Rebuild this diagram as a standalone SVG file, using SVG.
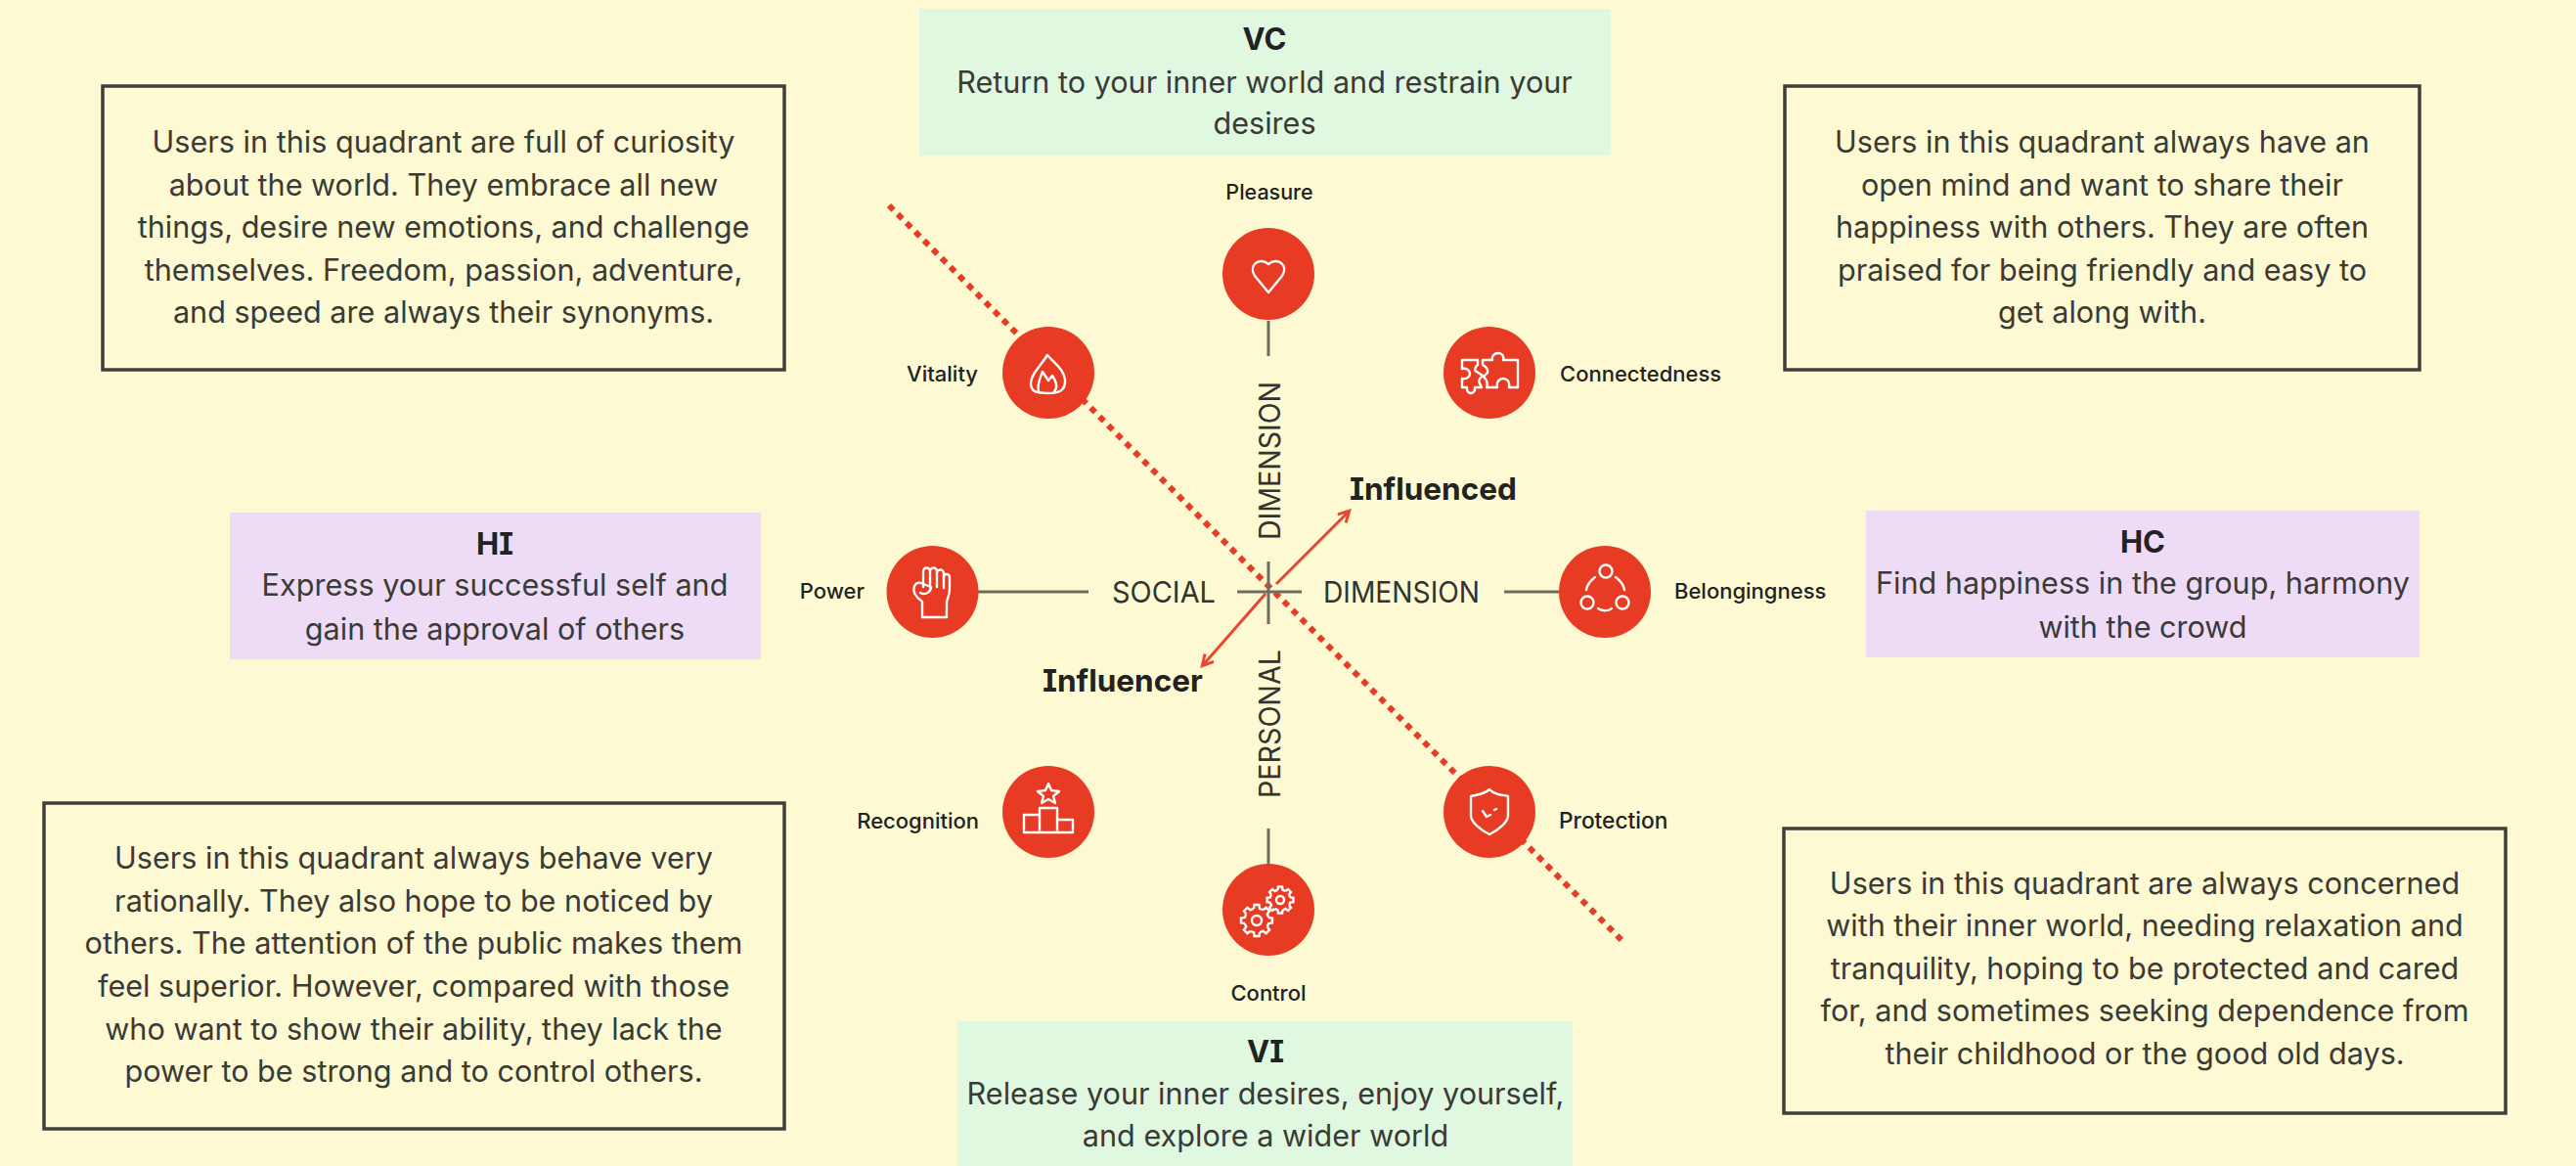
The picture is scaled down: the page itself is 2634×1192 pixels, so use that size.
<svg xmlns="http://www.w3.org/2000/svg" xmlns:xlink="http://www.w3.org/1999/xlink" width="2634" height="1192" viewBox="0 0 2634 1192">
<style>
text{font-family:"Inter","Liberation Sans",sans-serif;fill:#3a3a36}
.b{font-size:30.6px;text-anchor:middle;transform:translateY(1.5px)}
.h{font-size:31px;text-anchor:middle;font-weight:700;fill:#222;font-feature-settings:"cv08";transform:translateY(1.5px)}
#box-br .b{transform:none}
.l{font-size:22px;font-weight:500;fill:#222}
.d{font-size:30px;fill:#33332f;text-anchor:middle}
.i{font-size:31.500px;font-weight:700;fill:#222;font-feature-settings:"cv08"}
.box{fill:none;stroke:#3f3f3a;stroke-width:3.5}
.g{fill:#e0f7e0}.p{fill:#eedcf7}
.c{fill:#e73c23}
.w{fill:none;stroke:#fff;stroke-width:2.4;stroke-linejoin:round;stroke-linecap:round}
.ax{stroke:#6e6e60;stroke-width:3;fill:none}
.ar{fill:none;stroke:#e8472f;stroke-width:3}
</style>
<defs>
<marker id="ah" markerWidth="16" markerHeight="16" refX="11" refY="7" orient="auto" markerUnits="userSpaceOnUse"><path d="M1 1L12 7L1 13" fill="none" stroke="#e8472f" stroke-width="3"/></marker>
<path id="t" d="M-2.4 -9.7L-2 -12.8H2L2.400 -9.7A10 10 0 0 1 5.150 -8.570" fill="none" stroke="#fff" stroke-width="2.4" vector-effect="non-scaling-stroke"/>
<g id="gear"><use xlink:href="#t"/><use xlink:href="#t" transform="rotate(45)"/><use xlink:href="#t" transform="rotate(90)"/><use xlink:href="#t" transform="rotate(135)"/><use xlink:href="#t" transform="rotate(180)"/><use xlink:href="#t" transform="rotate(225)"/><use xlink:href="#t" transform="rotate(270)"/><use xlink:href="#t" transform="rotate(315)"/></g>
</defs>
<rect width="2634" height="1192" fill="#fdf9d2"/>
<g id="connectors">
<path d="M909 210L1661 964" fill="none" stroke="#e73c23" stroke-width="6" stroke-dasharray="6.500 6.200"/>
<path class="ax" d="M1297 328V364M1297 574V638M1297 847V884M1000 605H1113M1265 605H1331M1538 605H1594"/>
<path class="ar" d="M1305 597L1379 523" marker-end="url(#ah)"/>
<path class="ar" d="M1294 607L1230 680" marker-end="url(#ah)"/>
</g>
<g id="axis-labels">
<text class="d" x="1190" y="616" textLength="106" lengthAdjust="spacingAndGlyphs">SOCIAL</text>
<text class="d" x="1433" y="616" textLength="160" lengthAdjust="spacingAndGlyphs">DIMENSION</text>
<text class="d" transform="translate(1309 471) rotate(-90)" textLength="162" lengthAdjust="spacingAndGlyphs">DIMENSION</text>
<text class="d" transform="translate(1309 740) rotate(-90)" textLength="152" lengthAdjust="spacingAndGlyphs">PERSONAL</text>
<text class="i" x="1380" y="511">Influenced</text>
<text class="i" x="1066" y="707">Influencer</text>
</g>
<g id="node-pleasure"><circle class="c" cx="1297" cy="280" r="47"/><path class="w" d="M1297 299L1283 282C1276 271 1288 262 1297 270C1306 262 1318 271 1311 282Z"/><text class="l" x="1298" y="204" text-anchor="middle" style="font-size:21.500px">Pleasure</text></g>
<g id="node-vitality"><circle class="c" cx="1072" cy="381" r="47"/><path class="w" d="M1071 363C1064 374 1054 383 1054 392C1054 402 1062 401 1071 402C1082 402 1090 400 1089 388C1088 378 1078 371 1071 363ZM1062 400C1060 392 1064 386 1066 380L1072 389L1076 384C1080 390 1082 396 1078 400"/><text class="l" x="1000" y="390" text-anchor="end">Vitality</text></g>
<g id="node-connectedness"><circle class="c" cx="1523" cy="381" r="47"/><path class="w" d="M1495 368H1511V373C1508 375 1507 379 1510 380L1516 384C1513 387 1511 389 1513 392L1515 396H1508V399C1506 403 1502 403 1500 399V396H1495V387C1500 388 1503 385 1503 382C1503 379 1500 376 1495 377Z"/><path class="w" d="M1516 368H1526C1525 364 1528 361 1532 361C1536 361 1538 364 1537 368H1552V396H1543C1544 390 1541 387 1537 387C1533 387 1530 390 1531 396H1520C1522 391 1520 388 1517 385L1521 381C1522 376 1518 374 1516 373Z"/><text class="l" x="1595" y="390">Connectedness</text></g>
<g id="node-power"><circle class="c" cx="953.500" cy="605" r="47"/><path class="w" d="M944 600V584A3.500 3.500 0 0 1 951 584V600M951 584A3.500 3.500 0 0 1 958 584V600M958 586A3.500 3.500 0 0 1 965 586V601M965 590A3 3 0 0 1 971 590V602C971 608 969 612 968 615V631H943V615C936 610 933 604 935 599C937 595 941 595 944 597L952 600C952 605 946 609 941 606"/><text class="l" x="884" y="612" text-anchor="end">Power</text></g>
<g id="node-belongingness"><circle class="c" cx="1641" cy="605" r="47"/><path class="w" d="M1622 603C1623 597 1627 593 1631 590M1652 590C1656 593 1660 597 1661 603M1634 622C1638 625 1645 625 1648 622"/><circle class="w" cx="1642" cy="584" r="6.500"/><circle class="w" cx="1623" cy="616" r="6.500"/><circle class="w" cx="1659" cy="616" r="6.500"/><text class="l" x="1712" y="612">Belongingness</text></g>
<g id="node-recognition"><circle class="c" cx="1072" cy="830" r="47"/><path class="w" d="M1047 851V833H1063V851ZM1063 851V826H1081V851ZM1081 851V838H1097V851ZM1072 801L1075 808L1083 809L1077 814L1079 821L1072 817L1065 821L1067 814L1061 809L1069 808Z"/><text class="l" x="1001" y="847" text-anchor="end">Recognition</text></g>
<g id="node-protection"><circle class="c" cx="1523" cy="830" r="47"/><path class="w" d="M1523 807C1516 813 1510 812 1504 814V834C1504 840 1513 848 1523 853C1533 848 1542 840 1542 834V814C1536 812 1530 814 1523 807ZM1516 829L1520 835L1524 833M1528 828L1530 827"/><text class="l" x="1594" y="847" style="font-size:22.700px">Protection</text></g>
<g id="node-control"><circle class="c" cx="1297" cy="930" r="47"/><use xlink:href="#gear" transform="translate(1285 941) scale(1.25)"/><circle class="w" cx="1285" cy="941" r="5"/><use xlink:href="#gear" transform="translate(1309 920) scale(1.05)"/><circle class="w" cx="1309" cy="920" r="4"/><text class="l" x="1297" y="1023" text-anchor="middle">Control</text></g>
<g id="panel-vc"><rect class="g" x="940" y="9" width="707" height="150"/><text class="h" x="1293" y="49">VC</text><text class="b" x="1293" y="93">Return to your inner world and restrain your</text><text class="b" x="1293" y="135">desires</text></g>
<g id="panel-vi"><rect class="g" x="979" y="1044" width="629" height="148"/><text class="h" x="1294" y="1084">VI</text><text class="b" x="1294" y="1127">Release your inner desires, enjoy yourself,</text><text class="b" x="1294" y="1170">and explore a wider world</text></g>
<g id="panel-hi"><rect class="p" x="235" y="524" width="543" height="150"/><text class="h" x="506" y="565">HI</text><text class="b" x="506" y="607.500">Express your successful self and</text><text class="b" x="506" y="652">gain the approval of others</text></g>
<g id="panel-hc"><rect class="p" x="1908" y="522" width="566" height="150"/><text class="h" x="2191" y="563">HC</text><text class="b" x="2191" y="605">Find happiness in the group, harmony</text><text class="b" x="2191" y="650">with the crowd</text></g>
<g id="box-tl"><rect class="box" x="105" y="88" width="697" height="290"/><text class="b" x="453.500" y="154">Users in this quadrant are full of curiosity</text><text class="b" x="453.500" y="198">about the world. They embrace all new</text><text class="b" x="453.500" y="241">things, desire new emotions, and challenge</text><text class="b" x="453.500" y="285">themselves. Freedom, passion, adventure,</text><text class="b" x="453.500" y="328">and speed are always their synonyms.</text></g>
<g id="box-tr"><rect class="box" x="1825" y="88" width="649" height="290"/><text class="b" x="2149.500" y="154">Users in this quadrant always have an</text><text class="b" x="2149.500" y="198">open mind and want to share their</text><text class="b" x="2149.500" y="241">happiness with others. They are often</text><text class="b" x="2149.500" y="285">praised for being friendly and easy to</text><text class="b" x="2149.500" y="328">get along with.</text></g>
<g id="box-bl"><rect class="box" x="45" y="821" width="757" height="333"/><text class="b" x="423" y="886">Users in this quadrant always behave very</text><text class="b" x="423" y="930">rationally. They also hope to be noticed by</text><text class="b" x="423" y="973.500">others. The attention of the public makes them</text><text class="b" x="423" y="1017">feel superior. However, compared with those</text><text class="b" x="423" y="1061.500">who want to show their ability, they lack the</text><text class="b" x="423" y="1104">power to be strong and to control others.</text></g>
<g id="box-br"><rect class="box" x="1824" y="847" width="738" height="291"/><text class="b" x="2193" y="914">Users in this quadrant are always concerned</text><text class="b" x="2193" y="957">with their inner world, needing relaxation and</text><text class="b" x="2193" y="1001">tranquility, hoping to be protected and cared</text><text class="b" x="2193" y="1044">for, and sometimes seeking dependence from</text><text class="b" x="2193" y="1088">their childhood or the good old days.</text></g>
</svg>
